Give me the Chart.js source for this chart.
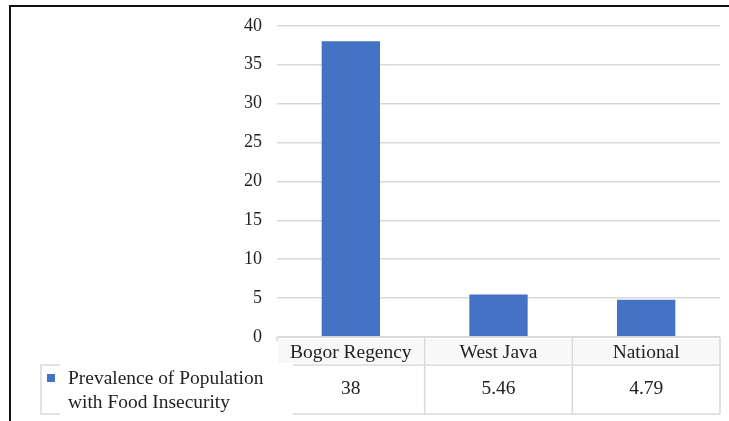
<!DOCTYPE html>
<html>
<head>
<meta charset="utf-8">
<script src="https://cdn.jsdelivr.net/npm/chart.js@4/dist/chart.umd.min.js"></script>
<style>
  html, body { margin: 0; padding: 0; background: #ffffff; }
  #wrap { width: 729px; height: 421px; position: relative; }
</style>
</head>
<body>
<div id="wrap"><canvas id="c" width="729" height="421"></canvas></div>
<script>
// ---- data ----
const categories = ['Bogor Regency', 'West Java', 'National'];
const values = [38, 5.46, 4.79];
const valueLabels = ['38', '5.46', '4.79'];
const seriesLabelLines = ['Prevalence of Population', 'with Food Insecurity'];
const yMin = 0, yMax = 40, yStep = 5;

const BAR_COLOR = '#4472C4';
const GRID_COLOR = '#d9d9d9';
const TEXT_COLOR = '#222222';
const FONT_FAMILY = "'Liberation Serif', 'Times New Roman', serif";
const STRETCH = 1.08;

function stretchedText(ctx, text, x, y, align) {
  ctx.save();
  ctx.translate(x, y);
  ctx.scale(STRETCH, 1);
  ctx.textAlign = align;
  ctx.fillText(text, 0, 0);
  ctx.restore();
}

const tablePlugin = {
  id: 'dataTable',
  beforeDraw(chart) {
    const ctx = chart.ctx;
    ctx.save();
    // outer frame
    ctx.strokeStyle = '#111111';
    ctx.lineWidth = 2;
    ctx.beginPath();
    ctx.moveTo(10, 421);
    ctx.lineTo(10, 6);
    ctx.lineTo(729, 6);
    ctx.stroke();
    ctx.restore();
  },
  afterDraw(chart) {
    const ctx = chart.ctx;
    const area = chart.chartArea;
    const xs = chart.scales.x;
    const top = area.bottom;
    const row1 = top + 28;
    const row2 = top + 77;
    const centers = categories.map((_, i) => xs.getPixelForValue(i));
    const bounds = [area.left];
    for (let i = 0; i < centers.length - 1; i++) bounds.push((centers[i] + centers[i + 1]) / 2);
    bounds.push(area.right);

    ctx.save();
    // light header fill
    ctx.fillStyle = '#f8f8f8';
    for (let i = 0; i < centers.length; i++) {
      ctx.fillRect(bounds[i] + 1, top + 2, bounds[i + 1] - bounds[i] - 2, row1 - top - 4);
    }
    ctx.strokeStyle = GRID_COLOR;
    ctx.lineWidth = 1.5;
    ctx.beginPath();
    // top line
    ctx.moveTo(area.left, top); ctx.lineTo(area.right, top);
    // row separators
    ctx.moveTo(area.left + 16, row1); ctx.lineTo(area.right, row1);
    ctx.moveTo(area.left + 16, row2); ctx.lineTo(area.right, row2);
    // verticals
    ctx.moveTo(area.left, top); ctx.lineTo(area.left, top + 4);
    for (let i = 1; i < bounds.length; i++) {
      ctx.moveTo(bounds[i], top); ctx.lineTo(bounds[i], row2);
    }
    // legend cell bracket
    ctx.moveTo(60, row1); ctx.lineTo(41, row1); ctx.lineTo(41, row2); ctx.lineTo(60, row2);
    ctx.stroke();

    // text
    ctx.fillStyle = TEXT_COLOR;
    ctx.font = '18px ' + FONT_FAMILY;
    ctx.textBaseline = 'middle';
    for (let i = 0; i < categories.length; i++) {
      stretchedText(ctx, categories[i], centers[i], top + 16, 'center');
      stretchedText(ctx, valueLabels[i], centers[i], top + 52, 'center');
    }
    // legend
    ctx.fillStyle = BAR_COLOR;
    ctx.fillRect(47, top + 37, 8, 8);
    ctx.fillStyle = TEXT_COLOR;
    stretchedText(ctx, seriesLabelLines[0], 68, top + 42, 'left');
    stretchedText(ctx, seriesLabelLines[1], 68, top + 66, 'left');
    ctx.restore();
  }
};

new Chart(document.getElementById('c'), {
  type: 'bar',
  data: {
    labels: categories,
    datasets: [{
      label: seriesLabelLines.join(' '),
      data: values,
      backgroundColor: BAR_COLOR,
      borderWidth: 0,
      barPercentage: 0.395,
      categoryPercentage: 1.0
    }]
  },
  options: {
    responsive: false,
    animation: false,
    devicePixelRatio: 1,
    layout: { padding: { left: 0, top: 25, right: 9, bottom: 84 } },
    plugins: { legend: { display: false }, tooltip: { enabled: false } },
    scales: {
      x: { display: false },
      y: {
        min: yMin, max: yMax,
        ticks: {
          stepSize: yStep,
          padding: 15,
          color: TEXT_COLOR,
          font: { family: FONT_FAMILY, size: 18 }
        },
        grid: { color: GRID_COLOR, lineWidth: 1.5, drawTicks: false },
        border: { display: false },
        afterFit(scale) { scale.width = 277; }
      }
    }
  },
  plugins: [tablePlugin]
});
</script>
</body>
</html>
